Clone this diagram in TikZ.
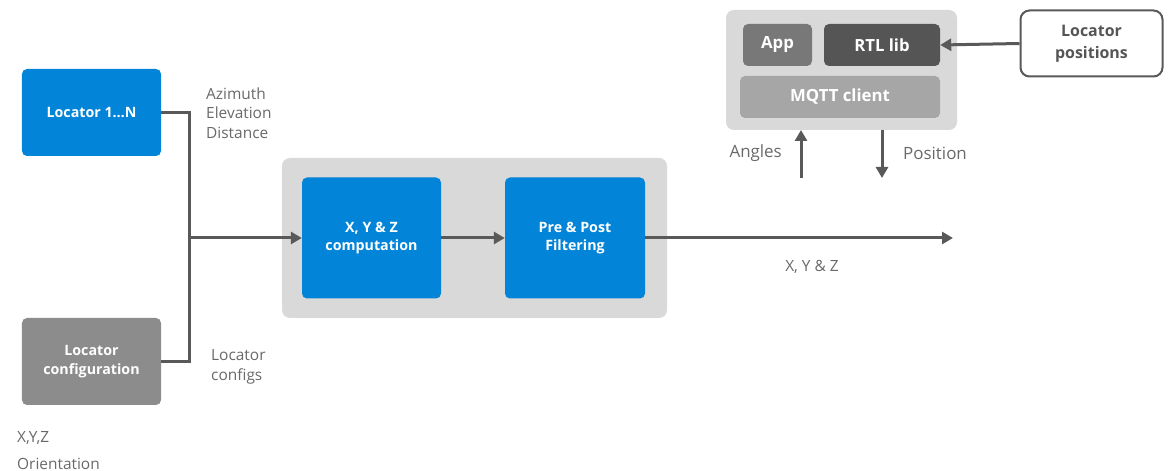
\documentclass[tikz,border=0pt]{standalone}
\usepackage{fontspec}
\setmainfont{Open Sans}
\usetikzlibrary{arrows.meta}
\definecolor{sblue}{RGB}{2,132,216}
\definecolor{panel}{RGB}{217,217,217}
\definecolor{wire}{RGB}{89,89,89}
\definecolor{txt}{RGB}{105,105,105}
\definecolor{cfggray}{RGB}{140,140,140}
\definecolor{appgray}{RGB}{120,120,120}
\definecolor{rtlgray}{RGB}{85,85,85}
\definecolor{mqttgray}{RGB}{166,166,166}
\tikzset{
  box/.style={rounded corners=5bp, inner sep=0pt, text=white, font=\fontsize{14.3}{18.5}\selectfont\bfseries, align=center},
  topbox/.style={box, font=\fontsize{16.8}{20}\selectfont\bfseries},
  panelbox/.style={fill=panel, rounded corners=8bp},
  wireline/.style={draw=wire, line width=3bp},
  arr/.style={wireline, -{Triangle[length=11bp,width=12bp]}},
  lbl/.style={text=txt, font=\fontsize{15.5}{19.5}\selectfont, inner sep=0pt, align=left},
}
\begin{document}
\begin{tikzpicture}[x=1bp, y=-1bp]
\useasboundingbox (0,0) rectangle (1168,471);
% processing panel and its two stages
\fill[panelbox] (282,158) rectangle (667,318);
\node[box, fill=sblue, minimum width=139bp, minimum height=121bp] (comp) at (371.5,238) {X, Y \& Z\\computation};
\node[box, fill=sblue, minimum width=140bp, minimum height=121bp] (filt) at (575,238) {Pre \& Post\\Filtering};
% inputs
\node[box, fill=sblue, minimum width=139bp, minimum height=87bp] (loc) at (91.5,112.5) {Locator 1…N};
\node[box, fill=cfggray, minimum width=139bp, minimum height=87bp] (cfg) at (91.5,361.5) {Locator\\configuration};
\coordinate (j) at (189,238);
\draw[wireline] (loc.east) -| (j);
\draw[wireline] (cfg.east) -| (j);
\draw[arr] (j) -- (comp.west);
\draw[arr] (comp.east) -- (filt.west);
\coordinate (out) at (953,238);
\draw[arr] (filt.east) -- (out);
% labels
\node[lbl, anchor=west] (l1) at (206,113) {Azimuth\\Elevation\\Distance};
\node[lbl, anchor=west] (l2) at (211,367) {Locator\\configs};
\node[lbl, anchor=west] (l3) at (17,438) {X,Y,Z};
\node[lbl, anchor=west] (l4) at (17,464) {Orientation};
\node[lbl, anchor=center] (l5) at (812,267) {X, Y \& Z};
% client panel
\fill[panelbox] (726,10) rectangle (957,130);
\node[topbox, fill=appgray, minimum width=69bp, minimum height=42bp] (app) at (777.5,45) {App};
\node[topbox, fill=rtlgray, minimum width=116bp, minimum height=42bp] (rtl) at (882,45) {RTL lib};
\node[topbox, fill=mqttgray, minimum width=200bp, minimum height=42bp] (mqtt) at (840,97) {MQTT client};
\node[box, draw=wire, line width=2bp, fill=white, text=rtlgray, rounded corners=9bp, font=\fontsize{16}{22}\selectfont\bfseries, minimum width=142bp, minimum height=66bp] (pos) at (1091.5,43.5) {Locator\\positions};
\draw[arr] (pos.west) -- (rtl.east);
\coordinate (a0) at (801,178);
\coordinate (a1) at (801,130);
\draw[arr] (a0) -- (a1);
\coordinate (p0) at (882,130);
\coordinate (p1) at (882,178);
\draw[arr] (p0) -- (p1);
\node[lbl, anchor=east, font=\fontsize{17}{20}\selectfont] (ang) at (782,153) {Angles};
\node[lbl, anchor=west, font=\fontsize{17}{20}\selectfont] (posl) at (903,153) {Position};
\end{tikzpicture}
\end{document}
